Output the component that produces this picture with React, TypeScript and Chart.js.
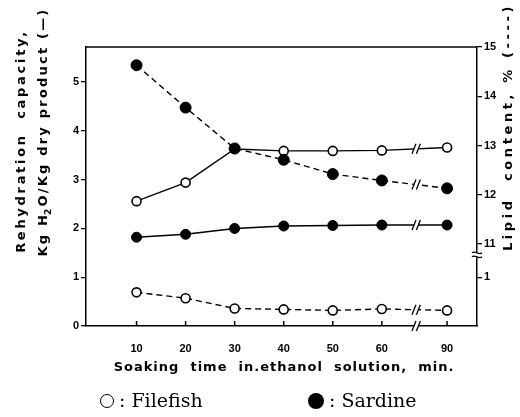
import React, { useEffect, useRef } from 'react';
import { Chart, registerables } from 'chart.js';
Chart.register(...registerables);

// ---- data ----
const timeLabels = ['10', '20', '30', '40', '50', '60', '90'];
const timeSlots = [1, 2, 3, 4, 5, 6, 7.33]; // broken time axis: 60 -> 90 gap is wider
const breakSlot = 6.7;

const filefishRehydration = [2.56, 2.94, 3.63, 3.59, 3.59, 3.6, 3.66];
const sardineRehydration = [1.82, 1.88, 2.0, 2.05, 2.06, 2.07, 2.07];
const sardineLipid = [14.63, 13.77, 12.94, 12.71, 12.42, 12.29, 12.13]; // % (upper right scale)
const filefishLipid = [0.69, 0.57, 0.36, 0.34, 0.32, 0.35, 0.32]; // % (lower right scale, shares left units)

const leftTicks = [0, 1, 2, 3, 4, 5];
const rightUpperTicks = [15, 14, 13, 12, 11];
const rightLowerLabel = '1';
const rightLowerValue = 10.326;
const rightBreakValue = 10.78;

const INK = '#000';
const BOLD_SANS = '"DejaVu Sans", sans-serif';

function pts(arr: number[]) {
  return arr.map((v, i) => ({ x: timeSlots[i], y: v }));
}

function drawBreak(ctx: CanvasRenderingContext2D, bx: number, by: number) {
  ctx.fillStyle = '#fff';
  ctx.fillRect(bx - 2, by - 2.5, 4, 5);
  ctx.strokeStyle = INK;
  ctx.lineWidth = 1.3;
  for (const dx of [-2.2, 2.2]) {
    ctx.beginPath();
    ctx.moveTo(bx + dx - 2, by + 5);
    ctx.lineTo(bx + dx + 2, by - 5);
    ctx.stroke();
  }
}

function rotatedText(ctx: CanvasRenderingContext2D, x: number, y: number, draw: () => void) {
  ctx.save();
  ctx.translate(x, y);
  ctx.rotate(-Math.PI / 2);
  draw();
  ctx.restore();
}

const decorPlugin = {
  id: 'decor',
  afterDatasetsDraw(chart: any) {
    const { ctx, chartArea: ca, scales } = chart;
    const xs = scales.x;
    ctx.save();
    ctx.strokeStyle = INK;
    ctx.lineWidth = 1.5;
    // top frame
    ctx.beginPath();
    ctx.moveTo(ca.left, ca.top);
    ctx.lineTo(ca.right, ca.top);
    ctx.stroke();
    // inward x ticks
    timeSlots.forEach((s) => {
      const px = xs.getPixelForValue(s);
      ctx.beginPath();
      ctx.moveTo(px, ca.bottom);
      ctx.lineTo(px, ca.bottom - 5);
      ctx.stroke();
    });
    // breaks on lines
    const bx = xs.getPixelForValue(breakSlot);
    const series: [number[], string][] = [
      [filefishRehydration, 'y'],
      [sardineRehydration, 'y'],
      [sardineLipid, 'y2'],
      [filefishLipid, 'y'],
    ];
    series.forEach(([arr, axis]) => {
      const n = arr.length;
      const sc = scales[axis];
      const x0 = xs.getPixelForValue(timeSlots[n - 2]);
      const x1 = xs.getPixelForValue(timeSlots[n - 1]);
      const y0 = sc.getPixelForValue(arr[n - 2]);
      const y1 = sc.getPixelForValue(arr[n - 1]);
      const by = y0 + ((y1 - y0) * (bx - x0)) / (x1 - x0);
      drawBreak(ctx, bx, by);
    });
    drawBreak(ctx, bx, ca.bottom);
    // right axis break squiggle
    const yb = scales.y2.getPixelForValue(rightBreakValue);
    const r = ca.right;
    ctx.fillStyle = '#fff';
    ctx.fillRect(r - 2, yb - 2.5, 4, 5);
    ctx.lineWidth = 1.3;
    for (const dy of [-2, 2]) {
      ctx.beginPath();
      ctx.moveTo(r - 5, yb + dy);
      ctx.bezierCurveTo(r - 2, yb + dy - 3, r + 2, yb + dy + 3, r + 5, yb + dy);
      ctx.stroke();
    }
    ctx.restore();
  },
  afterDraw(chart: any) {
    const { ctx } = chart;
    ctx.save();
    ctx.fillStyle = INK;
    ctx.textBaseline = 'middle';
    const font = `bold 13px ${BOLD_SANS}`;
    // left title line 1
    rotatedText(ctx, 22, 141, () => {
      ctx.font = font;
      (ctx as any).letterSpacing = '2.7px';
      ctx.textAlign = 'center';
      ctx.fillText('Rehydration  capacity,', 0, 0);
    });
    // left title line 2 with subscript
    rotatedText(ctx, 44, 131, () => {
      (ctx as any).letterSpacing = '2.2px';
      const a = 'Kg H';
      const b = '2';
      const c = 'O/Kg dry product (—)';
      ctx.font = font;
      const wa = ctx.measureText(a).width;
      const wc = ctx.measureText(c).width;
      ctx.font = `bold 9px ${BOLD_SANS}`;
      const wb = ctx.measureText(b).width;
      const start = -(wa + wb + wc) / 2;
      ctx.textAlign = 'left';
      ctx.font = font;
      ctx.fillText(a, start, 0);
      ctx.font = `bold 9px ${BOLD_SANS}`;
      ctx.fillText(b, start + wa - 2, 5);
      ctx.font = font;
      ctx.fillText(c, start + wa + wb - 2, 0);
    });
    // right title
    rotatedText(ctx, 509, 127, () => {
      ctx.font = font;
      (ctx as any).letterSpacing = '3.6px';
      ctx.textAlign = 'center';
      ctx.fillText('Lipid  content, % (----)', 0, 0);
    });
    // x title
    ctx.font = font;
    (ctx as any).letterSpacing = '1px';
    ctx.textAlign = 'center';
    ctx.fillText('Soaking  time  in.ethanol  solution,  min.', 284, 368);
    ctx.restore();
  },
};

export default function App() {
  const ref = useRef<HTMLCanvasElement>(null);
  useEffect(() => {
    document.body.style.margin = '0';
    const tickFont = { family: '"Liberation Sans", sans-serif', weight: 'bold' as const, size: 11 };
    const chart = new Chart(ref.current as HTMLCanvasElement, {
      type: 'line',
      data: {
        datasets: [
          {
            label: 'Sardine lipid',
            data: pts(sardineLipid),
            yAxisID: 'y2',
            order: 0,
            borderColor: INK,
            borderWidth: 1.4,
            borderDash: [6, 4],
            pointRadius: 5.5,
            pointBackgroundColor: INK,
            pointBorderColor: INK,
            pointBorderWidth: 1,
          },
          {
            label: 'Filefish rehydration',
            data: pts(filefishRehydration),
            yAxisID: 'y',
            order: 1,
            borderColor: INK,
            borderWidth: 1.4,
            pointRadius: 4.5,
            pointBackgroundColor: '#fff',
            pointBorderColor: INK,
            pointBorderWidth: 1.6,
          },
          {
            label: 'Sardine rehydration',
            data: pts(sardineRehydration),
            yAxisID: 'y',
            order: 2,
            borderColor: INK,
            borderWidth: 1.4,
            pointRadius: 5,
            pointBackgroundColor: INK,
            pointBorderColor: INK,
            pointBorderWidth: 1,
          },
          {
            label: 'Filefish lipid',
            data: pts(filefishLipid),
            yAxisID: 'y',
            order: 3,
            borderColor: INK,
            borderWidth: 1.4,
            borderDash: [6, 4],
            pointRadius: 4.5,
            pointBackgroundColor: '#fff',
            pointBorderColor: INK,
            pointBorderWidth: 1.6,
          },
        ],
      },
      options: {
        responsive: false,
        animation: false,
        events: [],
        layout: { padding: { top: 47, left: 0, right: 0, bottom: 0 } },
        plugins: { legend: { display: false }, tooltip: { enabled: false } },
        scales: {
          x: {
            type: 'linear',
            position: 'bottom',
            min: -0.03,
            max: 7.94,
            afterBuildTicks: (s: any) => {
              s.ticks = timeSlots.map((v) => ({ value: v }));
            },
            afterFit: (s: any) => {
              s.height = 91;
            },
            grid: { display: false },
            border: { display: true, color: INK, width: 1.5 },
            ticks: {
              autoSkip: false,
              maxRotation: 0,
              padding: 8,
              color: INK,
              font: tickFont,
              callback: (_v: any, i: number) => timeLabels[i],
            },
          },
          y: {
            type: 'linear',
            position: 'left',
            min: 0,
            max: 5.72,
            afterBuildTicks: (s: any) => {
              s.ticks = leftTicks.map((v) => ({ value: v }));
            },
            afterFit: (s: any) => {
              s.width = 86;
            },
            grid: { display: true, drawOnChartArea: false, drawTicks: true, tickLength: 5, color: INK, lineWidth: 1.3 },
            border: { display: true, color: INK, width: 1.5 },
            ticks: { padding: 2, color: INK, font: tickFont, callback: (v: any) => String(v) },
          },
          y2: {
            type: 'linear',
            position: 'right',
            min: 9.335,
            max: 15,
            afterBuildTicks: (s: any) => {
              s.ticks = [...rightUpperTicks, rightLowerValue].map((v) => ({ value: v }));
            },
            afterFit: (s: any) => {
              s.width = 43;
            },
            grid: { display: true, drawOnChartArea: false, drawTicks: true, tickLength: 5, color: INK, lineWidth: 1.3 },
            border: { display: true, color: INK, width: 1.5 },
            ticks: {
              padding: 2,
              color: INK,
              font: tickFont,
              callback: (v: any) => (v === rightLowerValue ? rightLowerLabel : String(v)),
            },
          },
        },
      },
      plugins: [decorPlugin],
    } as any);
    return () => chart.destroy();
  }, []);

  const legendText: React.CSSProperties = {
    fontFamily: '"DejaVu Serif", serif',
    fontSize: 19,
    lineHeight: '19px',
    color: INK,
    marginLeft: 5,
    whiteSpace: 'pre',
  };

  return (
    <div style={{ position: 'relative', width: 520, height: 417, background: '#fff', overflow: 'hidden' }}>
      <canvas
        ref={ref}
        width={520}
        height={417}
        style={{ position: 'absolute', left: 0, top: 0, width: 520, height: 417 }}
      />
      <div style={{ position: 'absolute', left: 100, top: 391, display: 'flex', alignItems: 'center', height: 19 }}>
        <span
          style={{ display: 'inline-block', width: 12, height: 12, border: '1.5px solid #000', borderRadius: '50%' }}
        />
        <span style={legendText}>: Filefish</span>
      </div>
      <div style={{ position: 'absolute', left: 308, top: 391, display: 'flex', alignItems: 'center', height: 19 }}>
        <span style={{ display: 'inline-block', width: 16, height: 16, background: '#000', borderRadius: '50%' }} />
        <span style={legendText}>: Sardine</span>
      </div>
    </div>
  );
}
